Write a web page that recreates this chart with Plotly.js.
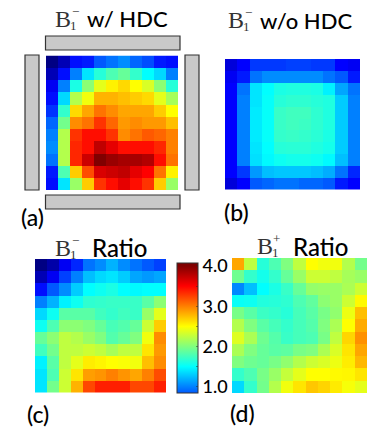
<!DOCTYPE html>
<html><head><meta charset="utf-8">
<script src="https://cdn.plot.ly/plotly-3.0.1.min.js"></script>
<style>html,body{margin:0;padding:0;background:#fff}#c{width:388px;height:445px}</style>
</head><body><div id="c"></div>
<script>
const panelA = [
[0,.2,.55,.6,.85,.95,1.05,.9,.8,.6,.55],
[.2,.55,1.0,1.4,1.65,1.8,1.9,1.7,1.5,1.35,1.0],
[.45,1.0,1.6,2.05,2.4,2.55,2.65,2.5,2.35,2.05,1.65],
[.55,1.35,2.2,2.45,2.8,2.8,2.75,2.7,2.65,2.4,2.15],
[.7,1.7,2.65,2.85,3.05,2.95,2.85,2.85,2.85,2.7,2.5],
[.9,1.95,2.95,3.05,3.3,3.1,2.9,2.95,2.9,2.9,2.75],
[1.0,2.2,3.3,3.45,3.45,3.3,2.95,3.05,3.15,3.1,3.0],
[1.05,2.2,3.35,3.45,3.75,3.6,3.45,3.45,3.45,3.35,3.0],
[.95,2.2,3.35,3.7,4.0,3.9,3.85,3.85,3.8,3.45,3.05],
[.6,1.8,2.7,3.2,3.65,3.7,3.75,3.6,3.5,3.05,2.55],
[.55,1.4,2.1,2.7,3.3,3.45,3.6,3.45,3.3,2.7,2.1]];
const panelB = [
[.35,.5,.72,.72,.72,.75,.75,.72,.72,.5,.45],
[.45,.6,.95,1.05,1.05,1.05,1.05,1.05,.95,.85,.6],
[.5,.95,1.4,1.5,1.6,1.62,1.62,1.6,1.45,1.15,.95],
[.5,1.0,1.4,1.52,1.65,1.68,1.68,1.65,1.62,1.3,1.0],
[.5,1.0,1.42,1.52,1.72,1.75,1.75,1.68,1.62,1.3,1.0],
[.5,1.0,1.42,1.52,1.72,1.75,1.73,1.68,1.62,1.3,1.0],
[.5,1.0,1.42,1.52,1.7,1.72,1.7,1.66,1.6,1.3,1.0],
[.5,1.0,1.4,1.5,1.65,1.66,1.66,1.62,1.58,1.3,1.0],
[.5,1.0,1.38,1.48,1.55,1.58,1.58,1.55,1.48,1.25,1.0],
[.5,.72,1.1,1.25,1.28,1.28,1.28,1.25,1.18,.95,.65],
[.35,.5,.85,.9,.95,.95,.9,.9,.85,.6,.5]];
const panelC = [
[0,.15,.45,.65,.95,1.05,1.2,1.05,.95,.85,.75],
[.2,.45,.75,1.0,1.25,1.35,1.4,1.3,1.15,1.1,1.15],
[.55,.85,1.05,1.3,1.5,1.55,1.6,1.5,1.48,1.5,1.5],
[1.0,1.2,1.45,1.55,1.68,1.7,1.72,1.72,1.72,1.85,2.05],
[1.35,1.55,1.85,1.85,1.85,1.75,1.7,1.75,1.72,2.1,2.4],
[1.55,1.8,2.05,2.05,2.0,1.9,1.78,1.82,1.9,2.3,2.7],
[1.9,2.05,2.25,2.2,2.1,2.0,1.82,1.9,2.0,2.45,2.95],
[1.75,1.95,2.25,2.25,2.3,2.25,2.15,2.25,2.25,2.6,2.9],
[1.45,1.85,2.25,2.4,2.57,2.54,2.5,2.48,2.45,2.75,2.95],
[1.4,1.8,2.3,2.6,2.88,2.92,3.0,2.92,2.85,3.0,3.2],
[1.4,1.95,2.3,2.8,3.22,3.38,3.38,3.38,3.22,3.22,3.38]];
const panelD = [
[2.85,2.25,1.65,1.8,2.0,2.25,2.5,2.45,2.45,2.2,1.95],
[1.93,1.7,1.58,1.7,1.9,2.1,2.3,2.3,2.25,2.15,2.1],
[1.03,1.25,1.5,1.6,1.72,1.9,2.08,2.1,2.1,2.17,2.3],
[1.53,1.55,1.63,1.65,1.68,1.8,1.88,2.05,2.1,2.3,2.52],
[1.97,1.85,1.73,1.7,1.65,1.77,1.85,1.97,2.07,2.43,2.75],
[2.2,2.0,1.85,1.77,1.7,1.77,1.83,2.0,2.17,2.5,2.83],
[2.37,2.17,1.93,1.83,1.72,1.77,1.8,1.97,2.25,2.66,2.93],
[2.17,2.0,1.9,1.85,1.87,1.97,2.0,2.17,2.35,2.6,2.85],
[2.0,1.93,1.9,1.97,2.07,2.2,2.3,2.35,2.43,2.57,2.78],
[1.7,1.8,1.97,2.1,2.27,2.4,2.5,2.5,2.52,2.53,2.6],
[1.35,1.7,1.95,2.2,2.45,2.6,2.72,2.67,2.58,2.47,2.4]];
const barTickVals = [1,1.5,2,2.5,3,3.5,4];
const barTickText = ['1.0','','2.0','','3.0','','4.0'];

const W=388,H=445;
const px=v=>v/W, py=v=>1-v/H;
const jet=[[0,'rgb(0,0,131)'],[.125,'rgb(0,0,255)'],[.375,'rgb(0,255,255)'],[.625,'rgb(255,255,0)'],[.875,'rgb(255,0,0)'],[1,'rgb(128,0,0)']];
// colour bar shows only part of the 0..4 ramp
const bMin=.85,bMax=4.07;
const jetBar=[[0,'rgb(0,89,255)'],[(1.5-bMin)/(bMax-bMin),'rgb(0,255,255)'],[(2.5-bMin)/(bMax-bMin),'rgb(255,255,0)'],[(3.5-bMin)/(bMax-bMin),'rgb(255,0,0)'],[(4-bMin)/(bMax-bMin),'rgb(128,0,0)'],[1,'rgb(128,0,0)']];

const boxes=[[46,178,55.5,190],[225,360,59,189.5],[35,166,259,392.5],[232,367,258,393]];
const data=[panelA,panelB,panelC].map((z,i)=>({type:'heatmap',z,xaxis:'x'+(i+1),yaxis:'y'+(i+1),colorscale:jet,zmin:0,zmax:4,showscale:false}));
data.push({type:'heatmap',z:panelD,xaxis:'x4',yaxis:'y4',colorscale:jetBar,zmin:bMin,zmax:bMax,showscale:true,
 colorbar:{x:px(177),xanchor:'left',xref:'paper',xpad:0,ypad:0,y:py(393),yanchor:'bottom',yref:'paper',len:130,lenmode:'pixels',thickness:21,thicknessmode:'pixels',
  tickmode:'array',tickvals:barTickVals,ticktext:barTickText,ticks:'inside',ticklen:2,tickwidth:1,tickcolor:'rgba(40,40,40,.5)',outlinecolor:'#333',outlinewidth:1,borderwidth:0,
  tickfont:{family:'Lato, sans-serif',size:18,color:'#000',weight:500}}});

const layout={width:W,height:H,margin:{l:0,r:0,t:0,b:0,autoexpand:false},paper_bgcolor:'#fff',plot_bgcolor:'#fff',showlegend:false,shapes:[],annotations:[]};
boxes.forEach((b,i)=>{const n=i+1;
 layout['xaxis'+n]={domain:[px(b[0]),px(b[1])],range:[-.5,10.5],visible:false,fixedrange:true,anchor:'y'+n};
 layout['yaxis'+n]={domain:[py(b[3]),py(b[2])],range:[10.5,-.5],visible:false,fixedrange:true,anchor:'x'+n};
});
[[45.5,180,36,50],[45.5,180,195,209],[25,39,55,190],[185,199,55,190]].forEach(r=>layout.shapes.push({type:'rect',xref:'paper',yref:'paper',x0:px(r[0]),x1:px(r[1]),y0:py(r[2]),y1:py(r[3]),fillcolor:'#c9c9c9',line:{color:'#333',width:1.2}}));

const SANS='Lato, sans-serif',SERIF='"Liberation Serif", serif';
const txt=(t,x,y,size,fam,color)=>layout.annotations.push({text:t,xref:'paper',yref:'paper',x:px(x),y:py(y),xanchor:'left',yanchor:'middle',showarrow:false,borderpad:0,font:{family:fam,size,color:color||'#000',weight:fam===SANS?500:400}});
const bTitle=(x,y,sign)=>{txt('B',x,y,24,SERIF,'#333');txt('1',x+15,y+6,13,SERIF,'#333');txt(sign,x+(sign==='+'?16:17),y-8,13,SERIF,'#333');};
bTitle(54,19,'−');  txt('w/ HDC',86,18,22,SANS);
bTitle(227,20,'−'); txt('w/o HDC',259,20,22,SANS);
bTitle(54,248,'−'); txt('Ratio',91,247,24,SANS);
bTitle(256,246,'+');txt('Ratio',292,246,24,SANS);
txt('(a)',20,217,23,SANS); txt('(b)',223,212,23,SANS); txt('(c)',26,414,23,SANS); txt('(d)',229,413,23,SANS);

Plotly.newPlot('c',data,layout,{displayModeBar:false,staticPlot:true});
</script></body></html>
